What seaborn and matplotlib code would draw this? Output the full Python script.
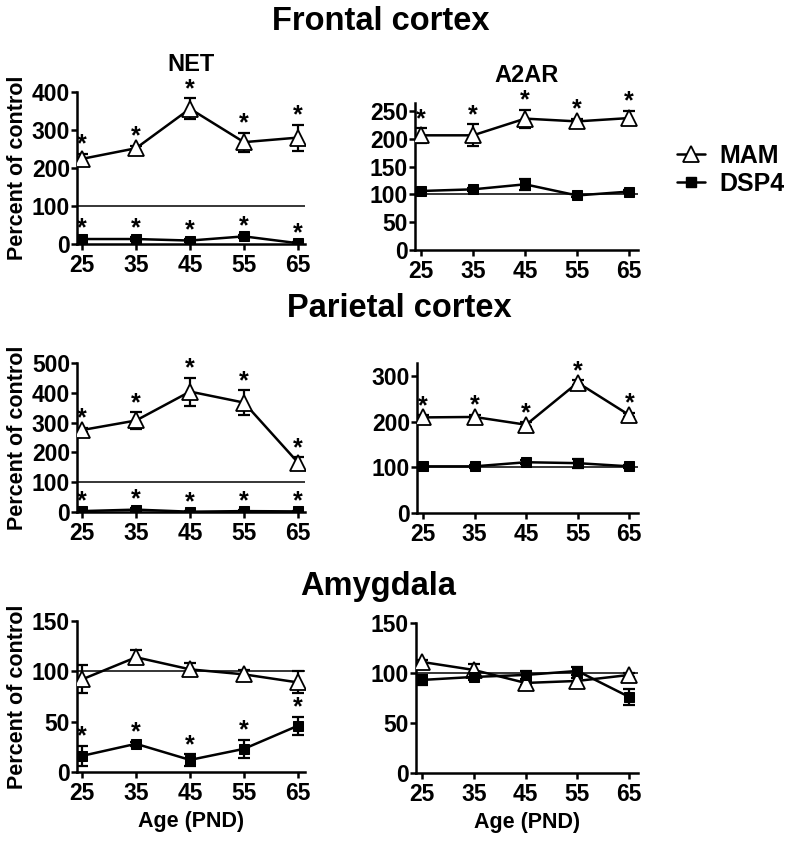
import numpy as np
import pandas as pd
import matplotlib
matplotlib.use("Agg")
import matplotlib.pyplot as plt
import seaborn as sns
from matplotlib.lines import Line2D

# ages (postnatal day)
ages = [25, 35, 45, 55, 65]

# Frontal cortex - NET
fc_net_mam = [224, 252, 356, 268, 280]
fc_net_mam_sem = [14, 7, 28, 25, 34]
fc_net_dsp = [13, 13, 9, 20, 2]
fc_net_dsp_sem = [5, 5, 4, 4, 3]
fc_net_mam_sig = [1, 1, 1, 1, 1]
fc_net_dsp_sig = [1, 1, 1, 1, 1]

# Frontal cortex - A2AR
fc_a2_mam = [206, 206, 236, 231, 237]
fc_a2_mam_sem = [13, 20, 16, 5, 13]
fc_a2_dsp = [106, 109, 118, 98, 105]
fc_a2_dsp_sem = [3, 3, 10, 3, 3]
fc_a2_mam_sig = [1, 1, 1, 1, 1]
fc_a2_dsp_sig = [0, 0, 0, 0, 0]

# Parietal cortex - NET
pc_net_mam = [275, 307, 404, 367, 166]
pc_net_mam_sem = [8, 28, 47, 42, 19]
pc_net_dsp = [3, 8, 1, 3, 2]
pc_net_dsp_sem = [3, 4, 2, 3, 2]
pc_net_mam_sig = [1, 1, 1, 1, 1]
pc_net_dsp_sig = [1, 1, 1, 1, 1]

# Parietal cortex - A2AR
pc_a2_mam = [209, 210, 193, 285, 214]
pc_a2_mam_sem = [5, 5, 5, 5, 5]
pc_a2_dsp = [102, 102, 111, 109, 102]
pc_a2_dsp_sem = [3, 3, 4, 10, 3]
pc_a2_mam_sig = [1, 1, 1, 1, 1]
pc_a2_dsp_sig = [0, 0, 0, 0, 0]

# Amygdala - NET
am_net_mam = [92, 114, 102, 97, 89]
am_net_mam_sem = [14, 7, 6, 4, 11]
am_net_dsp = [16, 28, 12, 23, 46]
am_net_dsp_sem = [10, 2, 6, 9, 9]
am_net_mam_sig = [0, 0, 0, 0, 0]
am_net_dsp_sig = [1, 1, 1, 1, 1]

# Amygdala - A2AR
am_a2_mam = [111, 103, 90, 92, 98]
am_a2_mam_sem = [2, 6, 2, 3, 2]
am_a2_dsp = [93, 96, 98, 102, 76]
am_a2_dsp_sem = [5, 3, 4, 4, 8]
am_a2_mam_sig = [0, 0, 0, 0, 0]
am_a2_dsp_sig = [0, 0, 0, 0, 0]

sns.set_style("ticks")
plt.rcParams["font.family"] = ["Liberation Sans", "DejaVu Sans"]
plt.rcParams["font.weight"] = "bold"
plt.rcParams["axes.labelweight"] = "bold"
plt.rcParams["axes.titleweight"] = "bold"
for key in ["text.color", "axes.labelcolor", "xtick.color", "ytick.color", "axes.edgecolor"]:
    plt.rcParams[key] = "black"

fig = plt.figure(figsize=(8, 8.41), dpi=100)

LW = 1.8
TICK_FS = 16.5


def draw_panel(rect, xlim, mam, mam_sem, dsp, dsp_sem, mam_sig, dsp_sig, ylim, yticks,
               title=None, ylabel=False, xlabel=False):
    ax = fig.add_axes(rect)
    ax.axhline(100, color="black", lw=1.1, zorder=1)
    for vals, sem in [(mam, mam_sem), (dsp, dsp_sem)]:
        ax.errorbar(ages, vals, yerr=sem, fmt="none", ecolor="black",
                    elinewidth=1.6, capsize=4.5, capthick=1.6, zorder=2)
    df_m = pd.DataFrame({"age": ages, "value": mam})
    df_d = pd.DataFrame({"age": ages, "value": dsp})
    sns.lineplot(data=df_m, x="age", y="value", ax=ax, color="black", lw=LW,
                 marker="^", markersize=11, markerfacecolor="white",
                 markeredgecolor="black", markeredgewidth=1.3, zorder=3)
    sns.lineplot(data=df_d, x="age", y="value", ax=ax, color="black", lw=LW,
                 marker="s", markersize=7, markerfacecolor="black",
                 markeredgecolor="black", zorder=3)
    # significance stars above the error bars
    for vals, sem, sig in [(mam, mam_sem, mam_sig), (dsp, dsp_sem, dsp_sig)]:
        for a, v, s, f in zip(ages, vals, sem, sig):
            if f:
                ax.annotate("*", xy=(a, v + s), xytext=(0, 6.5), textcoords="offset points",
                            ha="center", va="center", fontsize=18, fontweight="bold")
    ax.set_xlim(*xlim)
    ax.set_ylim(*ylim)
    ax.set_xticks(ages)
    ax.set_yticks(yticks)
    ax.tick_params(labelsize=TICK_FS, width=1.8, length=4, direction="out")
    ax.tick_params(axis="y", pad=1)
    sns.despine(ax=ax)
    for sp in ["left", "bottom"]:
        ax.spines[sp].set_linewidth(LW)
    ax.set_ylabel("Percent of control" if ylabel else "", fontsize=15.5)
    ax.yaxis.set_label_coords(-0.215, 0.5)
    ax.set_xlabel("Age (PND)" if xlabel else "", fontsize=15.5)
    if title:
        ax.set_title(title, fontsize=17, fontweight="bold", pad=15)
    return ax


xl_left = (24.07, 66.3)
xl_right = (23.85, 66.7)

draw_panel([0.09625, 0.7099, 0.285, 0.1807], xl_left, fc_net_mam, fc_net_mam_sem,
           fc_net_dsp, fc_net_dsp_sem, fc_net_mam_sig, fc_net_dsp_sig,
           (0, 400), [0, 100, 200, 300, 400], title="NET", ylabel=True)
draw_panel([0.51875, 0.7027, 0.27875, 0.1748], xl_right, fc_a2_mam, fc_a2_mam_sem,
           fc_a2_dsp, fc_a2_dsp_sem, fc_a2_mam_sig, fc_a2_dsp_sig,
           (0, 264), [0, 50, 100, 150, 200, 250], title="A2AR")
draw_panel([0.09625, 0.3912, 0.285, 0.1772], xl_left, pc_net_mam, pc_net_mam_sem,
           pc_net_dsp, pc_net_dsp_sem, pc_net_mam_sig, pc_net_dsp_sig,
           (0, 500), [0, 100, 200, 300, 400, 500], ylabel=True)
draw_panel([0.52125, 0.39, 0.2763, 0.1784], xl_right, pc_a2_mam, pc_a2_mam_sem,
           pc_a2_dsp, pc_a2_dsp_sem, pc_a2_mam_sig, pc_a2_dsp_sig,
           (0, 328), [0, 100, 200, 300])
draw_panel([0.09625, 0.08205, 0.285, 0.1795], xl_left, am_net_mam, am_net_mam_sem,
           am_net_dsp, am_net_dsp_sem, am_net_mam_sig, am_net_dsp_sig,
           (0, 150), [0, 50, 100, 150], ylabel=True, xlabel=True)
draw_panel([0.52, 0.0809, 0.2775, 0.1784], xl_right, am_a2_mam, am_a2_mam_sem,
           am_a2_dsp, am_a2_dsp_sem, am_a2_mam_sig, am_a2_dsp_sig,
           (0, 150), [0, 50, 100, 150], xlabel=True)

# section titles
fig.text(0.476, 1 - 30 / 841, "Frontal cortex", ha="center", va="baseline",
         fontsize=23.5, fontweight="bold")
fig.text(0.499, 1 - 317 / 841, "Parietal cortex", ha="center", va="baseline",
         fontsize=23.5, fontweight="bold")
fig.text(0.473, 1 - 595 / 841, "Amygdala", ha="center", va="baseline",
         fontsize=23.5, fontweight="bold")

handles = [
    Line2D([], [], color="black", lw=LW, marker="^", markersize=11,
           markerfacecolor="white", markeredgecolor="black", markeredgewidth=1.3),
    Line2D([], [], color="black", lw=LW, marker="s", markersize=7,
           markerfacecolor="black"),
]
fig.legend(handles, ["MAM", "DSP4"], loc="center left",
           bbox_to_anchor=(677 / 800, 1 - 170 / 841), frameon=False,
           prop={"size": 18, "weight": "bold"}, handlelength=1.1,
           handletextpad=0.6, labelspacing=0.15, borderpad=0, borderaxespad=0)

fig.savefig("out.png", dpi=100)
